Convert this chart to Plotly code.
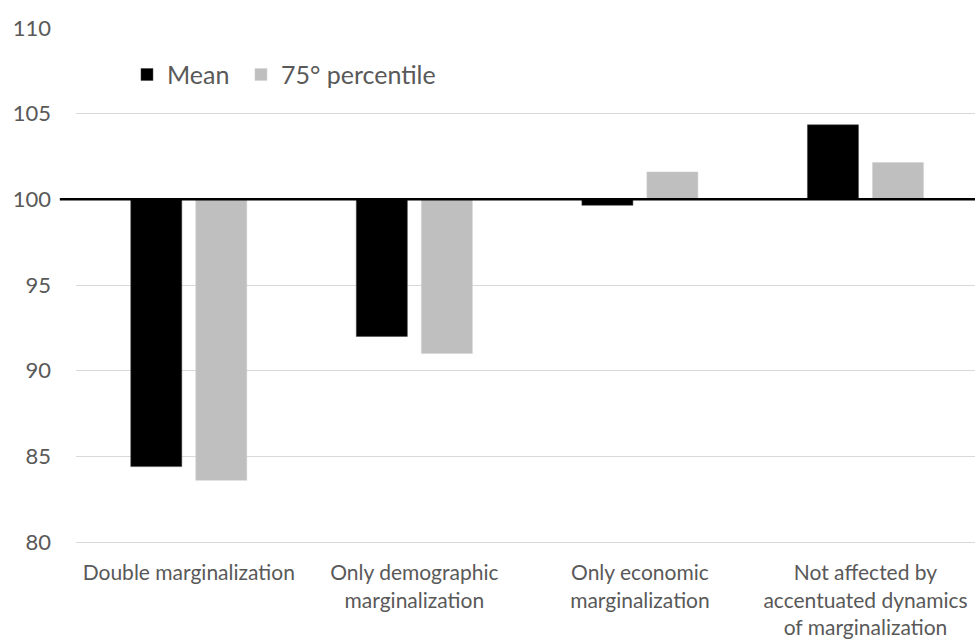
import plotly.graph_objects as go

categories = [
    "Double marginalization",
    "Only demographic<br>marginalization",
    "Only economic<br>marginalization",
    "Not affected by<br>accentuated dynamics<br>of marginalization",
]
mean_values = [84.4, 92.0, 99.65, 104.35]
p75_values = [83.6, 91.0, 101.6, 102.15]
baseline = 100
y_ticks = [80, 85, 90, 95, 100, 105, 110]

FONT = "Lato"
TXT = "#595959"

fig = go.Figure()
fig.add_trace(go.Bar(
    x=categories, y=[v - baseline for v in mean_values], base=baseline,
    name="Mean", legend="legend",
    marker=dict(color="#000000", line=dict(color="#404040", width=0.5)),
))
fig.add_trace(go.Bar(
    x=categories, y=[v - baseline for v in p75_values], base=baseline,
    name="75° percentile", legend="legend2",
    marker=dict(color="#bfbfbf", line=dict(color="#d0d0d0", width=0.5)),
))

fig.add_shape(type="line", xref="paper", yref="y", x0=-0.018, x1=1.0,
              y0=baseline, y1=baseline, line=dict(color="#000000", width=2.5), layer="above")

legend_style = dict(orientation="h", xanchor="left", y=0.909, yanchor="middle",
                    font=dict(family=FONT, size=25, color=TXT), bgcolor="rgba(0,0,0,0)")

fig.update_layout(
    width=975, height=639,
    margin=dict(l=76, r=0, t=28, b=97),
    paper_bgcolor="white", plot_bgcolor="white",
    barmode="group", bargap=0.4235, bargroupgap=0.215,
    font=dict(family=FONT, color=TXT),
    showlegend=True,
    legend=dict(x=0.0567, **legend_style),
    legend2=dict(x=0.1835, **legend_style),
    xaxis=dict(range=[-0.5, 3.4856], showgrid=False, zeroline=False, automargin=False,
               showline=True, linecolor="#d9d9d9", linewidth=1,
               tickfont=dict(family=FONT, size=21, color=TXT), ticks="", ticklabelstandoff=12),
    yaxis=dict(range=[80, 110], tickvals=y_ticks, showgrid=True, gridcolor="#d9d9d9", gridwidth=1,
               zeroline=False, showline=False, ticks="", automargin=False,
               tickfont=dict(family=FONT, size=22, color=TXT), ticklabelstandoff=24),
)

fig.write_html("out.html")
